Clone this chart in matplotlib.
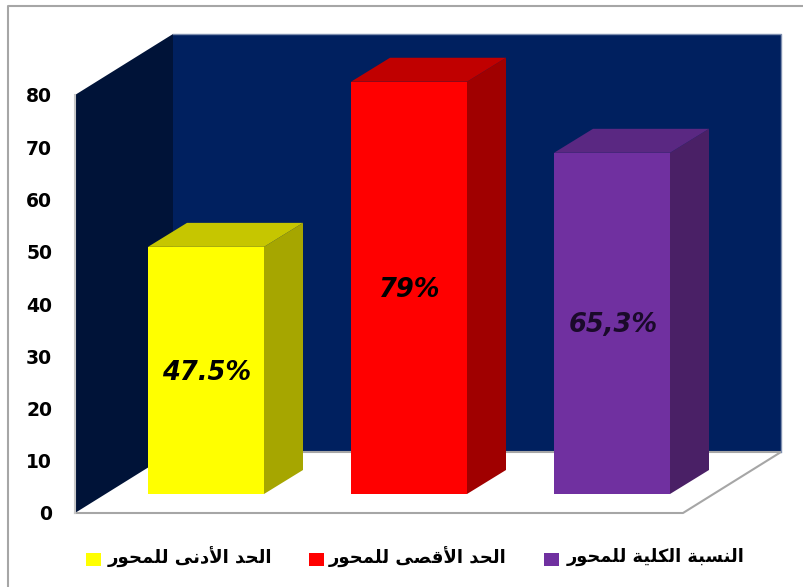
import unicodedata
import matplotlib
matplotlib.use("Agg")
import matplotlib.pyplot as plt
from matplotlib.lines import Line2D
from matplotlib.patches import Polygon, Rectangle

categories = ["الحد الأدنى للمحور", "الحد الأقصى للمحور", "النسبة الكلية للمحور"]
values = [47.3, 78.9, 65.3]
value_labels = ["47.5%", "79%", "65,3%"]
y_ticks = [0, 10, 20, 30, 40, 50, 60, 70, 80]

front_colors = ["#ffff00", "#ff0000", "#7030a0"]
top_colors = ["#c6c600", "#c00000", "#5a2882"]
side_colors = ["#a6a600", "#a00000", "#4a2066"]


def shape_arabic(text):
    # matplotlib has no shaping or bidi, so pick the joined forms by hand
    forms = {}
    for code in range(0xFE70, 0xFEFD):
        parts = unicodedata.decomposition(chr(code)).split()
        if len(parts) == 2:
            forms.setdefault(chr(int(parts[1], 16)), {})[parts[0]] = chr(code)
    no_left_join = set("اأدذرزوةى")
    out = []
    chars = list(text)
    i = 0
    while i < len(chars):
        c = chars[i]
        prev = chars[i - 1] if i > 0 else " "
        joins_prev = prev != " " and prev not in no_left_join
        if c == "ل" and i + 1 < len(chars) and chars[i + 1] == "أ":
            out.append("\ufef8" if joins_prev else "\ufef7")
            i += 2
            continue
        if c == " ":
            out.append(c)
            i += 1
            continue
        nxt = chars[i + 1] if i + 1 < len(chars) else " "
        joins_next = c not in no_left_join and nxt != " "
        if joins_prev and joins_next:
            name = "<medial>"
        elif joins_prev:
            name = "<final>"
        elif joins_next:
            name = "<initial>"
        else:
            name = "<isolated>"
        out.append(forms[c].get(name, c))
        i += 1
    return "".join(reversed(out))


W, H = 804, 587
fig = plt.figure(figsize=(W / 100, H / 100), dpi=100)
fig.patch.set_facecolor("white")

# frame: only the top and left edges are in the picture
fig.add_artist(Line2D([8 / W, 8 / W, 1], [0, 1 - 6 / H, 1 - 6 / H], transform=fig.transFigure,
                      color="#a6a6a6", linewidth=1.5))

# axes = front floor edge (x 75-683 px) and the 0-80 scale (y 513-95 px)
ax = fig.add_axes([75 / W, 1 - 513 / H, 608 / W, 418 / H])
ax.set_xlim(0, 3)
ax.set_ylim(0, 80)
ax.patch.set_visible(False)
for s in ax.spines.values():
    s.set_visible(False)
ax.set_xticks([])
ax.set_yticks(y_ticks)
ax.tick_params(axis="y", length=0, pad=16.5, labelsize=13.5)
for lab in ax.get_yticklabels():
    lab.set_fontweight("bold")
    lab.set_color("black")

# depth of the chart box and the bars, in axis units
dx, dy = 98 / 608 * 3, 61 / 418 * 80
off_x, off_y = 30 / 608 * 3, 19 / 418 * 80
bar_dx, bar_dy = 39 / 608 * 3, 24 / 418 * 80
bar_w = 116 / 608 * 3
bar_x = [43 / 608 * 3 + i * 203 / 608 * 3 for i in range(3)]

# walls and floor
ax.add_patch(Polygon([(0, 0), (dx, dy), (dx, 80 + dy), (0, 80)], fc="#001338", ec="none", clip_on=False, zorder=1))
ax.add_patch(Polygon([(dx, dy), (3 + dx, dy), (3 + dx, 80 + dy), (dx, 80 + dy)], fc="#00205f", ec="none", clip_on=False, zorder=1))
ax.plot([0, 3, 3 + dx, dx], [0, 0, dy, dy], color="#a6a6a6", lw=1.5, clip_on=False, zorder=2)
ax.plot([3 + dx, 3 + dx, dx], [dy, 80 + dy, 80 + dy], color="#7f8fb0", lw=1, clip_on=False, zorder=2)
ax.plot([0, 0], [0, 80], color="#c8c8c8", lw=1.5, clip_on=False, zorder=2)

for i, v in enumerate(values):
    x0 = bar_x[i] + off_x
    x1 = x0 + bar_w
    y0 = off_y
    y1 = off_y + v
    ax.add_patch(Polygon([(x1, y0), (x1 + bar_dx, y0 + bar_dy), (x1 + bar_dx, y1 + bar_dy), (x1, y1)],
                         fc=side_colors[i], ec="none", clip_on=False, zorder=3))
    ax.add_patch(Polygon([(x0, y1), (x1, y1), (x1 + bar_dx, y1 + bar_dy), (x0 + bar_dx, y1 + bar_dy)],
                         fc=top_colors[i], ec="none", clip_on=False, zorder=3))
    ax.add_patch(Rectangle((x0, y0), bar_w, v, fc=front_colors[i], ec="none", clip_on=False, zorder=4))

# value labels sit at mid height of each bar
for i, v in enumerate(values):
    ax.text(bar_x[i] + off_x + bar_w / 2 + 0.005, off_y + v / 2 - 0.4, value_labels[i], ha="center", va="center",
            fontsize=18.5, fontweight="bold", fontstyle="italic", color="black" if i < 2 else "#1a0a2a", zorder=5)

# legend
legend_sw = [86, 309, 544]
legend_tx = [272, 507, 745]
legend_fs = [13.1, 13.0, 12.8]
for i, c in enumerate(categories):
    fig.add_artist(Rectangle((legend_sw[i] / W, 1 - 566 / H), 15 / W, 13 / H, transform=fig.transFigure,
                             fc=front_colors[i], ec="none"))
    fig.text(legend_tx[i] / W, 1 - 557 / H, shape_arabic(c), ha="right", va="center",
             fontsize=legend_fs[i], fontweight="bold", family="DejaVu Sans", color="black")

fig.savefig("out.png", dpi=100)
